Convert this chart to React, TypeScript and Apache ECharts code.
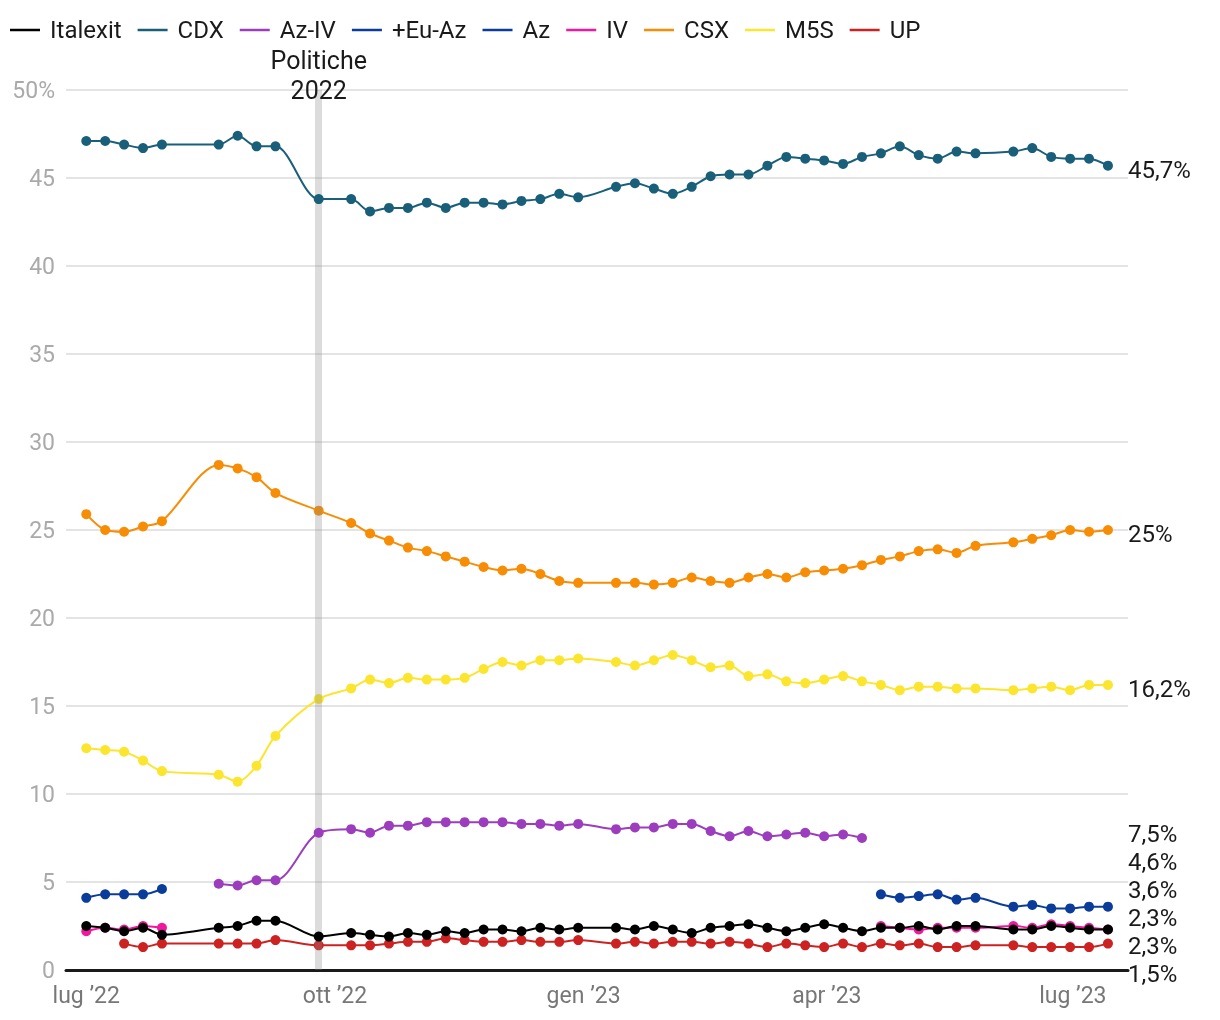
import React, { useEffect, useRef } from 'react';
import * as echarts from 'echarts';

// Weekly poll dates (plus election day)
const dates = [
  '2022-07-01','2022-07-08','2022-07-15','2022-07-22','2022-07-29',
  '2022-08-19','2022-08-26','2022-09-02','2022-09-09','2022-09-25',
  '2022-10-07','2022-10-14','2022-10-21','2022-10-28','2022-11-04','2022-11-11','2022-11-18','2022-11-25',
  '2022-12-02','2022-12-09','2022-12-16','2022-12-23','2022-12-30',
  '2023-01-13','2023-01-20','2023-01-27','2023-02-03','2023-02-10','2023-02-17','2023-02-24',
  '2023-03-03','2023-03-10','2023-03-17','2023-03-24','2023-03-31','2023-04-07','2023-04-14','2023-04-21','2023-04-28',
  '2023-05-05','2023-05-12','2023-05-19','2023-05-26','2023-06-09','2023-06-16','2023-06-23','2023-06-30',
  '2023-07-07','2023-07-14',
];

const cdx = [47.1,47.1,46.9,46.7,46.9,46.9,47.4,46.8,46.8,43.8,43.8,43.1,43.3,43.3,43.6,43.3,43.6,43.6,43.5,43.7,43.8,44.1,43.9,44.5,44.7,44.4,44.1,44.5,45.1,45.2,45.2,45.7,46.2,46.1,46.0,45.8,46.2,46.4,46.8,46.3,46.1,46.5,46.4,46.5,46.7,46.2,46.1,46.1,45.7];
const csx = [25.9,25.0,24.9,25.2,25.5,28.7,28.5,28.0,27.1,26.1,25.4,24.8,24.4,24.0,23.8,23.5,23.2,22.9,22.7,22.8,22.5,22.1,22.0,22.0,22.0,21.9,22.0,22.3,22.1,22.0,22.3,22.5,22.3,22.6,22.7,22.8,23.0,23.3,23.5,23.8,23.9,23.7,24.1,24.3,24.5,24.7,25.0,24.9,25.0];
const m5s = [12.6,12.5,12.4,11.9,11.3,11.1,10.7,11.6,13.3,15.4,16.0,16.5,16.3,16.6,16.5,16.5,16.6,17.1,17.5,17.3,17.6,17.6,17.7,17.5,17.3,17.6,17.9,17.6,17.2,17.3,16.7,16.8,16.4,16.3,16.5,16.7,16.4,16.2,15.9,16.1,16.1,16.0,16.0,15.9,16.0,16.1,15.9,16.2,16.2];
const azIv = [null,null,null,null,null,4.9,4.8,5.1,5.1,7.8,8.0,7.8,8.2,8.2,8.4,8.4,8.4,8.4,8.4,8.3,8.3,8.2,8.3,8.0,8.1,8.1,8.3,8.3,7.9,7.6,7.9,7.6,7.7,7.8,7.6,7.7,7.5,null,null,null,null,null,null,null,null,null,null,null,null];
const euAz = [4.1,4.3,4.3,4.3,4.6,null,null,null,null,null,null,null,null,null,null,null,null,null,null,null,null,null,null,null,null,null,null,null,null,null,null,null,null,null,null,null,null,null,null,null,null,null,null,null,null,null,null,null,null];
const az = [null,null,null,null,null,null,null,null,null,null,null,null,null,null,null,null,null,null,null,null,null,null,null,null,null,null,null,null,null,null,null,null,null,null,null,null,null,4.3,4.1,4.2,4.3,4.0,4.1,3.6,3.7,3.5,3.5,3.6,3.6];
const iv = [2.2,2.4,2.3,2.5,2.4,null,null,null,null,null,null,null,null,null,null,null,null,null,null,null,null,null,null,null,null,null,null,null,null,null,null,null,null,null,null,null,null,2.5,2.4,2.3,2.4,2.4,2.4,2.5,2.4,2.6,2.5,2.4,2.3];
const italexit = [2.5,2.4,2.2,2.4,2.0,2.4,2.5,2.8,2.8,1.9,2.1,2.0,1.9,2.1,2.0,2.2,2.1,2.3,2.3,2.2,2.4,2.3,2.4,2.4,2.3,2.5,2.3,2.1,2.4,2.5,2.6,2.4,2.2,2.4,2.6,2.4,2.2,2.4,2.4,2.5,2.3,2.5,2.5,2.3,2.3,2.5,2.4,2.3,2.3];
const up = [null,null,1.5,1.3,1.5,1.5,1.5,1.5,1.7,1.4,1.4,1.4,1.5,1.6,1.6,1.8,1.7,1.6,1.6,1.7,1.6,1.6,1.7,1.5,1.6,1.5,1.6,1.6,1.5,1.6,1.5,1.3,1.5,1.4,1.3,1.5,1.3,1.5,1.4,1.5,1.3,1.3,1.4,1.4,1.3,1.3,1.3,1.3,1.5];

const legendOrder = ['Italexit','CDX','Az-IV','+Eu-Az','Az','IV','CSX','M5S','UP'];
// drawing order: first drawn at bottom
const seriesDefs = [
  { name: 'UP', values: up, color: '#cc2222' },
  { name: 'M5S', values: m5s, color: '#fbe52e' },
  { name: 'CSX', values: csx, color: '#f78c05' },
  { name: 'IV', values: iv, color: '#f0189f' },
  { name: 'Az', values: az, color: '#0b3c9a' },
  { name: '+Eu-Az', values: euAz, color: '#0b3c9a' },
  { name: 'Az-IV', values: azIv, color: '#9c3dbd' },
  { name: 'CDX', values: cdx, color: '#1a5f7a' },
  { name: 'Italexit', values: italexit, color: '#000000' },
];

const monthNames = ['gen','feb','mar','apr','mag','giu','lug','ago','set','ott','nov','dic'];
const labelMonths = [0, 3, 6, 9];
const yTopLabel = '50%';
const electionDate = '2022-09-25';
const electionLabel = 'Politiche\n2022';
const xMin = '2022-06-23 12:00';
const xMax = '2023-07-21 10:00';

const DAY = 86400000;
const FONT = 'Roboto';

function fmtPct(v: number) {
  return String(v).replace('.', ',') + '%';
}

export default function App() {
  const ref = useRef<HTMLDivElement>(null);
  useEffect(() => {
    if (!ref.current) return;
    const chart = echarts.init(ref.current, null, { renderer: 'svg' });
    const series: any[] = seriesDefs.map((s, idx) => ({
      name: s.name,
      type: 'line',
      data: dates.map((d, i) => [d, s.values[i] == null ? '-' : s.values[i]]),
      smooth: 0.3,
      symbol: 'circle',
      symbolSize: 10,
      showSymbol: true,
      connectNulls: false,
      lineStyle: { width: 2, color: s.color },
      itemStyle: { color: s.color },
      emphasis: { disabled: true },
      z: 2 + idx,
    }));
    series[series.length - 1].markLine = {
      silent: true,
      symbol: 'none',
      animation: false,
      lineStyle: { color: 'rgba(140,140,140,0.3)', width: 7, type: 'solid' },
      label: {
        show: true,
        formatter: electionLabel,
        position: 'end',
        distance: -15,
        fontSize: 25,
        lineHeight: 30,
        color: '#1a1a1a',
        fontFamily: FONT,
      },
      data: [{ xAxis: electionDate }],
    };
    const option: any = {
      animation: false,
      textStyle: { fontFamily: FONT },
      legend: {
        left: 5,
        top: 13,
        icon: 'rect',
        itemWidth: 30,
        itemHeight: 2.5,
        itemGap: 16,
        selectedMode: false,
        data: legendOrder,
        textStyle: { fontSize: 24, lineHeight: 20, color: '#1a1a1a', fontFamily: FONT, padding: [0, 0, 0, 5] },
      },
      grid: { left: 66, right: 92, top: 90, bottom: 50 },
      xAxis: {
        type: 'time',
        min: xMin,
        max: xMax,
        minInterval: 93 * DAY,
        maxInterval: 93 * DAY,
        axisLine: { lineStyle: { color: '#1a1a1a', width: 3 } },
        axisTick: { show: false },
        splitLine: { show: false },
        axisLabel: {
          fontSize: 23,
          color: '#777',
          margin: 14,
          fontFamily: FONT,
          hideOverlap: false,
          formatter: (val: number) => {
            const d = new Date(val);
            if (d.getDate() === 1 && labelMonths.includes(d.getMonth())) {
              return monthNames[d.getMonth()] + ' \u2019' + String(d.getFullYear()).slice(2);
            }
            return '';
          },
        },
      },
      yAxis: {
        type: 'value',
        min: 0,
        max: 50,
        interval: 5,
        axisLine: { show: false },
        axisTick: { show: false },
        splitLine: { lineStyle: { color: '#e4e4e4', width: 2 } },
        axisLabel: {
          fontSize: 23,
          color: '#aaaaaa',
          margin: 11,
          fontFamily: FONT,
          formatter: (v: number) => (v === 50 ? yTopLabel : String(v)),
        },
      },
      series,
    };
    chart.setOption(option);

    // end labels at right edge, with simple collision avoidance
    const xRight = chart.convertToPixel({ xAxisIndex: 0 }, new Date(xMax.replace(' ', 'T')).getTime()) as number;
    const OFFSET = 4;
    const maxY = (chart.convertToPixel({ yAxisIndex: 0 }, 0) as number) + OFFSET;
    const items = seriesDefs.map((s) => {
      let last: number | null = null;
      for (let i = s.values.length - 1; i >= 0; i--) {
        if (s.values[i] != null) { last = s.values[i] as number; break; }
      }
      return { text: fmtPct(last as number), target: (chart.convertToPixel({ yAxisIndex: 0 }, last as number) as number) + OFFSET, y: 0 };
    }).sort((a, b) => a.target - b.target);
    const GAP = 28;
    let clusters = items.map((it) => ({ items: [it] }));
    const top = (c: any) => {
      const m = c.items.reduce((a: number, b: any) => a + b.target, 0) / c.items.length;
      const t = m - ((c.items.length - 1) * GAP) / 2;
      return Math.min(t, maxY - (c.items.length - 1) * GAP);
    };
    let changed = true;
    while (changed) {
      changed = false;
      for (let i = 0; i < clusters.length - 1; i++) {
        const a = clusters[i], b = clusters[i + 1];
        const aBottom = top(a) + (a.items.length - 1) * GAP;
        if (top(b) - aBottom < GAP) {
          clusters.splice(i, 2, { items: a.items.concat(b.items) });
          changed = true;
          break;
        }
      }
    }
    clusters.forEach((c) => {
      const t = top(c);
      c.items.forEach((it, k) => { it.y = t + k * GAP; });
    });
    chart.setOption({
      graphic: items.map((it) => ({
        type: 'text',
        x: xRight,
        y: it.y,
        silent: true,
        style: {
          text: it.text,
          fontSize: 24,
          fontFamily: FONT,
          fill: '#1a1a1a',
          textAlign: 'left',
          textVerticalAlign: 'middle',
          verticalAlign: 'middle',
        },
      })),
    });
    return () => chart.dispose();
  }, []);
  return <div ref={ref} style={{ position: 'fixed', left: 0, top: 0, width: 1220, height: 1020 }} />;
}
